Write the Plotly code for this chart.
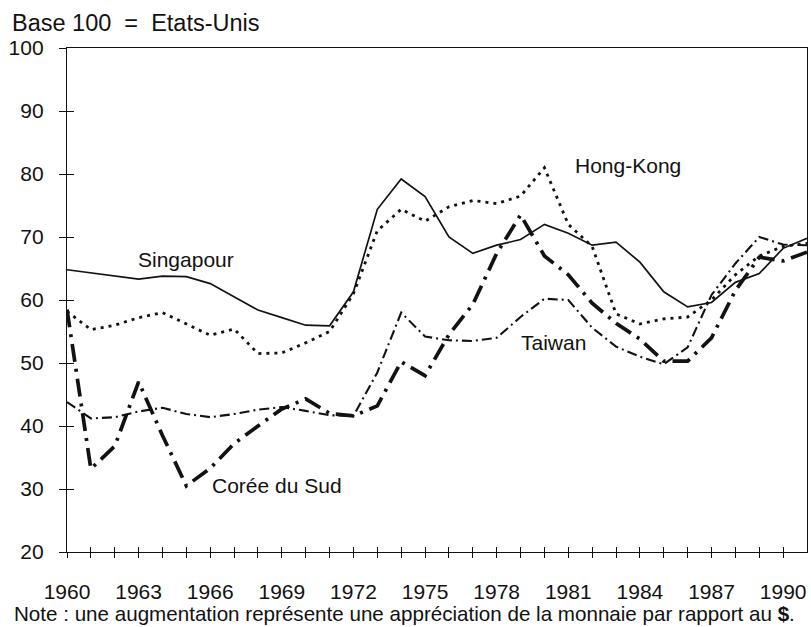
import plotly.graph_objects as go

years = list(range(1960, 1992))
tick_labels = {1960: "1960", 1963: "1963", 1966: "1966", 1969: "1969", 1972: "1972",
               1975: "1975", 1978: "1978", 1981: "1981", 1984: "1984", 1987: "1987", 1990: "1990"}

singapour = [64.8, 64.3, 63.8, 63.3, 63.8, 63.7, 62.6, 60.5, 58.4, 57.2,
             56.0, 55.9, 61.3, 74.4, 79.2, 76.4, 70.0, 67.4, 68.7, 69.6,
             72.0, 70.6, 68.7, 69.2, 66.0, 61.3, 58.9, 59.6, 62.8, 64.2,
             68.2, 69.8]
hong_kong = [58.2, 55.3, 56.0, 57.2, 58.0, 56.2, 54.4, 55.4, 51.5, 51.6,
             53.2, 55.0, 61.0, 71.0, 74.4, 72.5, 74.8, 75.8, 75.3, 76.5,
             81.0, 72.0, 68.5, 57.8, 56.2, 57.0, 57.3, 60.0, 64.0, 67.0,
             68.5, 69.0]
taiwan = [43.8, 41.2, 41.4, 42.3, 42.9, 41.9, 41.4, 41.9, 42.6, 43.0,
          42.4, 41.7, 41.6, 48.5, 58.0, 54.2, 53.6, 53.5, 54.0, 57.3,
          60.2, 60.0, 55.6, 52.6, 51.0, 49.8, 52.5, 60.8, 65.8, 70.0,
          68.8, 68.7]
coree = [58.5, 33.2, 36.8, 47.0, 38.5, 30.5, 33.3, 37.2, 40.0, 42.7,
         44.3, 42.0, 41.6, 43.2, 50.2, 48.0, 54.5, 59.3, 67.4, 73.5,
         67.0, 64.0, 59.5, 56.3, 53.8, 50.3, 50.3, 54.0, 61.5, 66.8,
         66.2, 67.6]

labels = [
    ("Singapour", 1965.0, 66.5),
    ("Hong-Kong", 1983.5, 81.4),
    ("Taiwan", 1980.4, 53.2),
    ("Corée du Sud", 1968.8, 30.6),
]

INK = "#121212"
FONT = "Liberation Sans, Arial, Helvetica, sans-serif"

fig = go.Figure()
fig.add_trace(go.Scatter(x=years, y=singapour, mode="lines", name="Singapour",
                         line=dict(color=INK, width=1.7)))
fig.add_trace(go.Scatter(x=years, y=hong_kong, mode="lines", name="Hong-Kong",
                         line=dict(color=INK, width=2.8, dash="3px,5px")))
fig.add_trace(go.Scatter(x=years, y=taiwan, mode="lines", name="Taiwan",
                         line=dict(color=INK, width=2.1, dash="10px,4px,2px,4px")))
fig.add_trace(go.Scatter(x=years, y=coree, mode="lines", name="Corée du Sud",
                         line=dict(color=INK, width=3.7, dash="18px,7px,3px,7px")))
# helper (empty) trace to show inner half of the crossing tick marks
fig.add_trace(go.Scatter(x=[None], y=[None], xaxis="x2", yaxis="y2",
                         showlegend=False, hoverinfo="skip"))

for text, xv, yv in labels:
    fig.add_annotation(x=xv, y=yv, text=text, showarrow=False,
                       font=dict(size=21, color=INK, family=FONT))

fig.add_annotation(xref="paper", yref="paper", x=-0.0743, y=-0.123,
                   xanchor="left", yanchor="middle", showarrow=False,
                   text="Note : une augmentation représente une appréciation de la monnaie par rapport au <b>$</b>.",
                   font=dict(size=20.6, color=INK, family=FONT))

tickvals = years[:-1]
ticktext = [tick_labels.get(y, "") for y in tickvals]

axis_common = dict(showgrid=False, zeroline=False, color=INK, linecolor=INK,
                   tickcolor=INK, tickwidth=1.3, automargin=False)

fig.update_layout(
    width=811, height=627,
    margin=dict(l=67, r=4, t=48, b=75),
    paper_bgcolor="white", plot_bgcolor="white",
    showlegend=False,
    font=dict(family=FONT, size=20, color=INK),
    title=dict(text="Base 100\u00a0 =\u00a0 Etats-Unis", x=12 / 811, xanchor="left",
               y=1 - 23 / 627, yanchor="middle", xref="container", yref="container",
               font=dict(size=23.5, color=INK, family=FONT)),
    xaxis=dict(range=[1960, 1991], tickmode="array", tickvals=tickvals, ticktext=ticktext,
               ticks="outside", ticklen=5, showline=True, mirror=True, linewidth=1.4,
               tickfont=dict(size=21, family=FONT, color=INK), ticklabelstandoff=16,
               **axis_common),
    yaxis=dict(range=[20, 100], dtick=10, ticks="outside", ticklen=7, showline=True,
               mirror=True, linewidth=1.4, tickfont=dict(size=21, family=FONT, color=INK),
               ticklabelstandoff=11, **axis_common),
    xaxis2=dict(range=[1960, 1991], overlaying="x", anchor="y2", tickmode="array",
                tickvals=tickvals, ticks="inside", ticklen=5, showticklabels=False,
                showline=False, **axis_common),
    yaxis2=dict(range=[20, 100], overlaying="y", anchor="x2", dtick=10, ticks="inside",
                ticklen=7, showticklabels=False, showline=False, **axis_common),
)

fig.write_html("out.html", config={"displayModeBar": False},
               post_script="document.body.style.margin='0';document.body.style.overflow='hidden';")
